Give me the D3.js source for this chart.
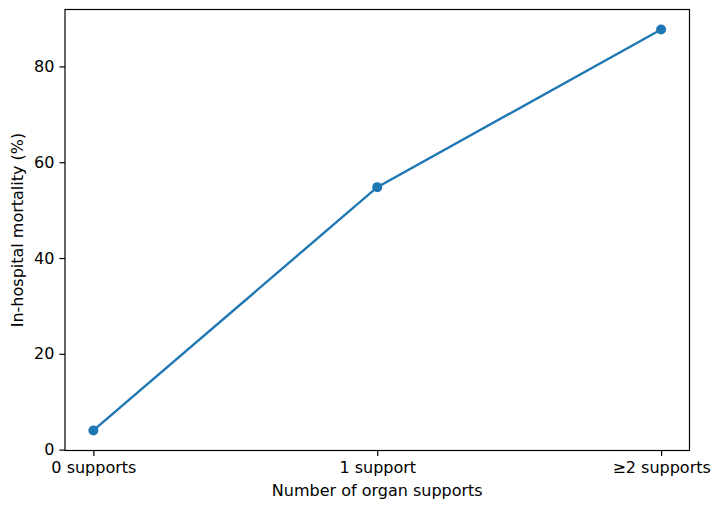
<!DOCTYPE html>
<html>
<head>
<meta charset="utf-8">
<script src="https://cdn.jsdelivr.net/npm/d3@7"></script>
<style>
	body { margin: 0; background: #fff; }
	text { font-family: "DejaVu Sans", sans-serif; fill: #000; }
</style>
</head>
<body>
<div id="chart"></div>
<script>
const categories = ['0 supports', '1 support', '\u22652 supports'];
const mortality = [4.0, 54.8, 87.7];
const yTicks = [0, 20, 40, 60, 80];

const W = 717, H = 506;
const margin = { top: 9.5, right: 27.5, bottom: 55.5, left: 65 };
const width = W - margin.left - margin.right;
const height = H - margin.top - margin.bottom;
const fontSize = '16px';

const svg = d3.select('#chart')
	.append('svg')
		.attr('width', W)
		.attr('height', H);

const g = svg.append('g')
	.attr('transform', 'translate(' + margin.left + ',' + margin.top + ')');

// matplotlib-like 5% padding
const yMin = d3.min(mortality), yMax = d3.max(mortality);
const pad = (yMax - yMin) * 0.05;

const x = d3.scaleLinear().domain([-0.1, categories.length - 1 + 0.1]).range([0, width]);
const y = d3.scaleLinear().domain([yMin - pad, yMax + pad]).range([height, 0]);

const xAxis = d3.axisBottom(x)
	.tickValues(d3.range(categories.length))
	.tickFormat((i) => categories[i])
	.tickSizeOuter(0)
	.tickSize(5.6)
	.tickPadding(5.5);

const yAxis = d3.axisLeft(y)
	.tickValues(yTicks)
	.tickSizeOuter(0)
	.tickSize(5.6)
	.tickPadding(5);

const gx = g.append('g')
	.attr('transform', 'translate(0,' + height + ')')
	.call(xAxis);
const gy = g.append('g').call(yAxis);

[gx, gy].forEach((a) => {
	a.select('.domain').remove();
	a.selectAll('.tick line').attr('stroke', '#000').attr('stroke-width', 1.2);
	a.selectAll('.tick text').style('font-size', fontSize).attr('fill', '#000');
});

g.append('rect')
	.attr('width', width)
	.attr('height', height)
	.attr('fill', 'none')
	.attr('stroke', '#000')
	.attr('stroke-width', 1.2);

const line = d3.line()
	.x((d, i) => x(i))
	.y((d) => y(d));

g.append('path')
	.datum(mortality)
	.attr('d', line)
	.attr('fill', 'none')
	.attr('stroke', '#1f77b4')
	.attr('stroke-width', 2.4);

g.selectAll('circle.pt')
	.data(mortality)
	.join('circle')
		.attr('class', 'pt')
		.attr('cx', (d, i) => x(i))
		.attr('cy', (d) => y(d))
		.attr('r', 5)
		.attr('fill', '#1f77b4');

svg.append('text')
	.attr('x', margin.left + width / 2)
	.attr('y', 496)
	.attr('text-anchor', 'middle')
	.style('font-size', fontSize)
	.text('Number of organ supports');

svg.append('text')
	.attr('transform', 'translate(23,' + (margin.top + height / 2) + ') rotate(-90)')
	.attr('text-anchor', 'middle')
	.style('font-size', fontSize)
	.text('In-hospital mortality (%)');
</script>
</body>
</html>
